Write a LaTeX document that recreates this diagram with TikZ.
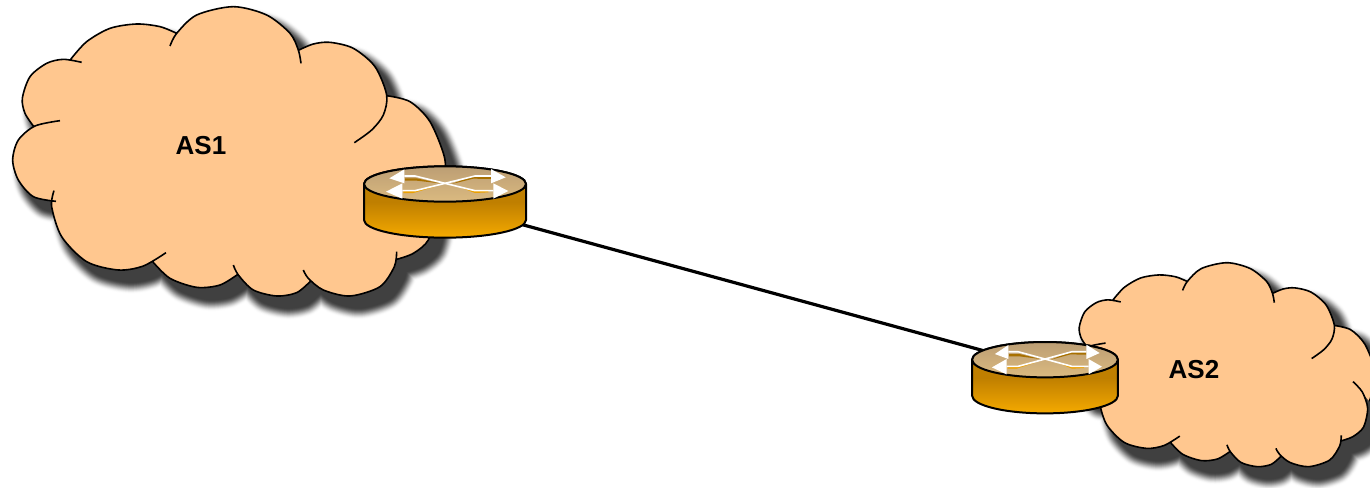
\documentclass[tikz,border=0pt]{standalone}
\usepackage{fontspec}
\setmainfont{Liberation Sans}
\definecolor{cloudfill}{HTML}{FFC78F}
\definecolor{shadowdark}{HTML}{404040}
\definecolor{bodytop}{HTML}{BF7F00}
\definecolor{bodybot}{HTML}{F5AA00}
\definecolor{lidtop}{HTML}{BC9E74}
\definecolor{lidbot}{HTML}{DBBA80}
\definecolor{wedgedark}{HTML}{A87000}
\definecolor{wedgelight}{HTML}{EBA000}
\newcommand\cloudoutline[1]{%
 plot[smooth] coordinates {(510,138)(530,100)(590,45)(700,20)(800,45)(870,100)(895,150)(903,190)} #1
 plot[smooth] coordinates {(897,150)(940,132)(990,127)(1060,145)(1125,200)(1160,285)(1150,345)(1115,390)(1063,428)} #1
 plot[smooth] coordinates {(1160,287)(1230,305)(1290,365)(1333,470)(1333,540)(1310,610)} #1
 plot[smooth] coordinates {(1240,526)(1280,570)(1303,640)(1285,720)(1240,760)(1190,778)} #1
 plot[smooth] coordinates {(1190,755)(1183,800)(1140,860)(1050,888)(970,870)(925,835)(910,810)} #1
 plot[smooth] coordinates {(930,845)(890,878)(830,888)(760,870)(715,825)(700,795)} #1
 plot[smooth] coordinates {(715,822)(660,855)(590,862)(510,835)(458,785)} #1
 plot[smooth] coordinates {(498,758)(430,798)(355,810)(260,785)(185,710)(155,620)(162,572)} #1
 plot[smooth] coordinates {(168,604)(100,590)(55,540)(38,480)(55,420)(105,378)(180,362)} #1
 plot[smooth] coordinates {(100,378)(75,340)(67,295)(90,230)(140,190)(190,178)(245,187)} #1
 plot[smooth] coordinates {(212,178)(260,125)(330,85)(410,72)(480,80)(530,100)}}
\newcommand\cloudshape{%
 \begin{scope}[shift={(10pt,-12pt)}]
  \foreach \w in {12,11.5,...,0.5}{
   \pgfmathsetmacro\ss{1-\w/12}
   \pgfmathsetmacro\pp{100*\ss*\ss*(3-2*\ss)}
   \draw[line width=2*\w pt,line join=round,color=shadowdark!\pp!white] \cloudoutline{--} -- cycle;
  }
  \fill[shadowdark] \cloudoutline{--} -- cycle;
 \end{scope}
 \fill[cloudfill] \cloudoutline{--} -- cycle;
 \draw[cloudline] \cloudoutline{};
}
\tikzset{
 cloudline/.style={line width=1.6pt,black,line cap=butt},
 routerline/.style={line width=2pt,black,line join=round},
 linkline/.style={line width=3.2pt,black},
 aslabel/.style={font=\fontsize{26}{30}\selectfont\bfseries,text=black,inner sep=0pt},
 pics/routerpic/.style={code={
  \shade[top color=bodytop,bottom color=bodybot,middle color=bodytop,routerline,draw]
    (-243,0) -- (-243,108) arc[start angle=180,end angle=0,x radius=243,y radius=53] -- (243,0)
    arc[start angle=0,end angle=-180,x radius=243,y radius=53] -- cycle;
  \shade[top color=lidtop,bottom color=lidbot,routerline,draw] (0,0) ellipse[x radius=243,y radius=53];
  \fill[wedgedark] (-120,-17) -- (-85,-17) -- (-15,-2) -- (-85,-10) -- (-120,-10) -- cycle;
  \fill[wedgedark] (85,-24) -- (138,-24) -- (138,-15) -- (85,-16) -- (20,0) -- cycle;
  \fill[wedgelight] (-125,20) -- (-90,20) -- (-30,8) -- (-95,27) -- (-125,27) -- cycle;
  \fill[wedgelight] (40,8) -- (90,20) -- (130,20) -- (130,25) -- (90,27) -- cycle;
  \draw[white,line width=1.6pt,line join=round] (-122,-24) -- (-90,-24) -- (90,20) -- (145,20);
  \draw[white,line width=1.6pt,line join=round] (-128,20) -- (-90,20) -- (90,-24) -- (138,-24);
  \fill[white] (-167,-17) -- (-122,-44) -- (-122,-2) -- cycle;
  \fill[white] (-177,23) -- (-128,-2) -- (-128,44) -- cycle;
  \fill[white] (182,-20) -- (138,-45) -- (138,-2) -- cycle;
  \fill[white] (190,21) -- (145,-2) -- (145,44) -- cycle;
 }}
}
\begin{document}
\begin{tikzpicture}[x=1pt,y=-1pt]
 \useasboundingbox (0,0) rectangle (1370,487);
 \coordinate (r1) at (445,203.5);
 \coordinate (r2) at (1045,367.5);
 \coordinate (top1) at (445,184);
 \coordinate (top2) at (1045,359.7);
 \begin{scope}[x=0.33333pt,y=-0.33333pt]
  \cloudshape
 \end{scope}
 \begin{scope}[shift={(1063.6,258)},x=0.23333pt,y=-0.235pt]
  \cloudshape
 \end{scope}
 \node[aslabel] (as1) at (201,146) {AS1};
 \node[aslabel] (as2) at (1194,370) {AS2};
 \draw[linkline] (r1) -- (r2);
 \path (top1) pic[x=0.33333pt,y=-0.33333pt] {routerpic};
 \path (top2) pic[x=0.3pt,y=-0.33333pt] {routerpic};
\end{tikzpicture}
\end{document}
